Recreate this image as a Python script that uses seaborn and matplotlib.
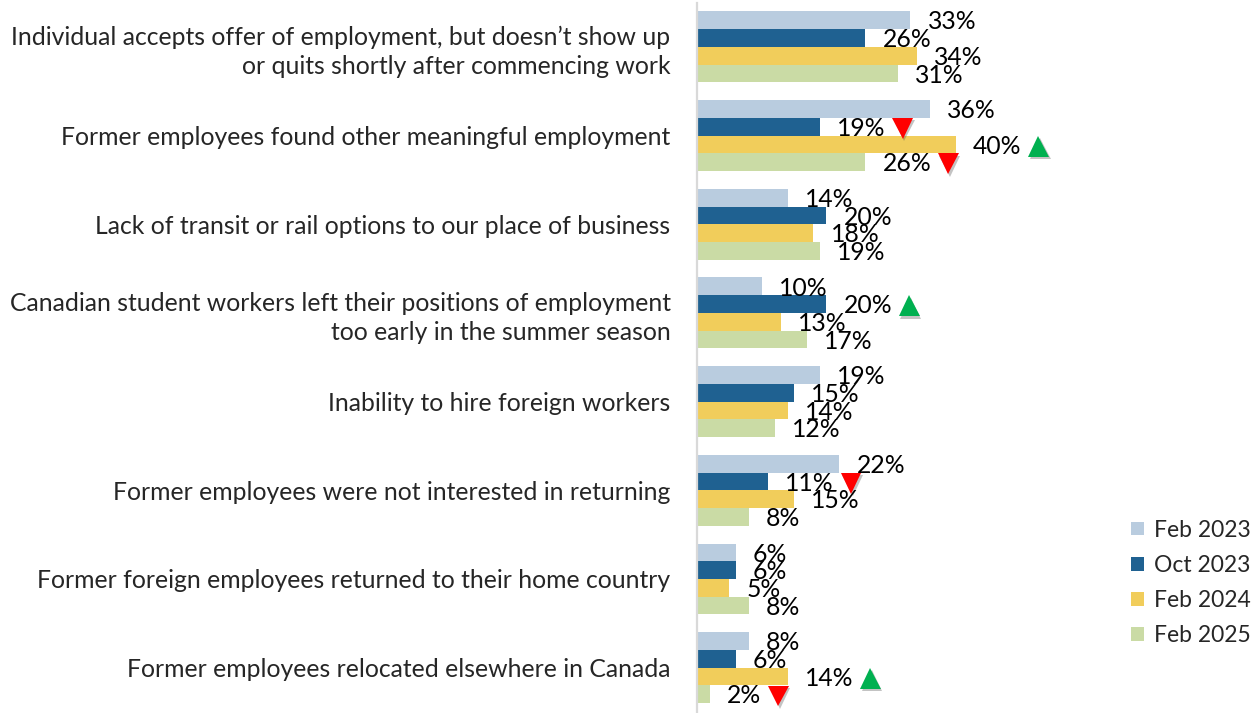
import numpy as np
import pandas as pd
import seaborn as sns
import matplotlib.pyplot as plt
from matplotlib import patheffects as pe

categories = [
    "Individual accepts offer of employment, but doesn\u2019t show up\nor quits shortly after commencing work",
    "Former employees found other meaningful employment",
    "Lack of transit or rail options to our place of business",
    "Canadian student workers left their positions of employment\ntoo early in the summer season",
    "Inability to hire foreign workers",
    "Former employees were not interested in returning",
    "Former foreign employees returned to their home country",
    "Former employees relocated elsewhere in Canada",
]
periods = ["Feb 2023", "Oct 2023", "Feb 2024", "Feb 2025"]

feb_2023 = [33, 36, 14, 10, 19, 22, 6, 8]
oct_2023 = [26, 19, 20, 20, 15, 11, 6, 6]
feb_2024 = [34, 40, 18, 13, 14, 15, 5, 14]
feb_2025 = [31, 26, 19, 17, 12, 8, 8, 2]

# significant change versus the previous wave: +1 up, -1 down, 0 none
feb_2023_change = [0, 0, 0, 0, 0, 0, 0, 0]
oct_2023_change = [0, -1, 0, 1, 0, -1, 0, 0]
feb_2024_change = [0, 1, 0, 0, 0, 0, 0, 1]
feb_2025_change = [0, -1, 0, 0, 0, 0, 0, -1]

colors = ["#B9CCDF", "#1F6191", "#F1CD5B", "#CADBA5"]

series = [feb_2023, oct_2023, feb_2024, feb_2025]
changes = [feb_2023_change, oct_2023_change, feb_2024_change, feb_2025_change]

rows = []
for p, vals in zip(periods, series):
    for c, v in zip(categories, vals):
        rows.append({"category": c, "period": p, "value": v})
df = pd.DataFrame(rows)

sns.set_theme(style="white")
plt.rcParams["font.family"] = ["Lato", "DejaVu Sans"]

DPI = 100
fig = plt.figure(figsize=(12.52, 7.13), dpi=DPI)
ax = fig.add_axes([697 / 1252, 0.0014, 401 / 1252, 0.995])

sns.barplot(data=df, x="value", y="category", hue="period", palette=colors,
            orient="h", width=0.8, saturation=1, linewidth=0, ax=ax,
            order=categories, hue_order=periods)

ax.set_xlim(0, 62)
ax.set_ylim(7.5, -0.5)
ax.set_xlabel("")
ax.set_ylabel("")
ax.set_xticks([])
for s in ["top", "right", "bottom"]:
    ax.spines[s].set_visible(False)
ax.spines["left"].set_color("#D9D9D9")
ax.spines["left"].set_linewidth(1.6)
ax.tick_params(axis="y", length=0, pad=19, labelsize=17.8)
for t in ax.get_yticklabels():
    t.set_horizontalalignment("right")
    t.set_multialignment("right")
    t.set_linespacing(1.3)

# value labels and change markers
fig.canvas.draw()
renderer = fig.canvas.get_renderer()
n = len(periods)
bar_h = 0.8 / n
label_fs = 17.8
for j, (vals, chg) in enumerate(zip(series, changes)):
    for i, (v, d) in enumerate(zip(vals, chg)):
        yc = i - 0.4 + bar_h * (j + 0.5)
        txt = ax.annotate(f"{v}%", xy=(v, yc), xytext=(12.4, -1.2),
                          textcoords="offset points", ha="left", va="center",
                          fontsize=label_fs, color="#000000")
        if d != 0:
            bb = txt.get_window_extent(renderer)
            x_disp = bb.x1 + 7 + 10
            y_disp = (bb.y0 + bb.y1) / 2
            xd, yd = ax.transData.inverted().transform((x_disp, y_disp))
            ax.plot([xd], [yd], marker="^" if d > 0 else "v",
                    color="#00B050" if d > 0 else "#FF0000",
                    markersize=15, markeredgewidth=0, clip_on=False,
                    path_effects=[pe.SimplePatchShadow(offset=(1.2, -1.8),
                                                       shadow_rgbFace="#555555",
                                                       alpha=0.35),
                                  pe.Normal()])

handles, labels = ax.get_legend_handles_labels()
ax.get_legend().remove()
fig.legend(handles, labels, loc="center left",
           bbox_to_anchor=(1122 / 1252, 1 - 583 / 713), frameon=False,
           fontsize=16.5, handlelength=0.55, handleheight=0.55,
           handletextpad=0.45, labelspacing=0.62, borderaxespad=0)

fig.savefig("out.png", dpi=DPI)
